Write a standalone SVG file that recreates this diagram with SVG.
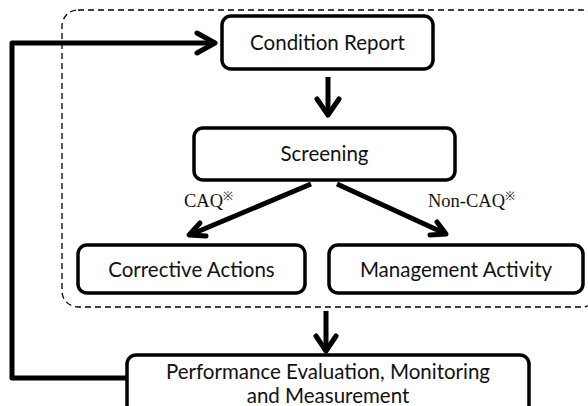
<svg xmlns="http://www.w3.org/2000/svg" width="588" height="406" viewBox="0 0 588 406">
<style>
.box{fill:#fff;stroke:#000;stroke-width:3.5}
.lbl{font-family:Lato,"Open Sans",sans-serif;font-size:20.5px;fill:#111;text-anchor:middle}
.ser{font-family:"Liberation Serif","DejaVu Serif",serif;font-size:18.5px;fill:#111}
.sup{font-size:12px}
.ln{fill:none;stroke:#000;stroke-width:5;stroke-linejoin:round;stroke-linecap:butt}
.hd{fill:none;stroke:#000;stroke-width:5;stroke-linejoin:round;stroke-linecap:round}
.dash{fill:none;stroke:#000;stroke-width:1.3;stroke-dasharray:6,4}
</style>
<rect width="588" height="406" fill="#fff"/>
<rect id="group-boundary" class="dash" x="62" y="10" width="536" height="297" rx="16"/>
<g id="condition-report"><rect class="box" x="222" y="16" width="211" height="53" rx="9"/><text class="lbl" x="327.5" y="50">Condition Report</text></g>
<g id="screening"><rect class="box" x="194" y="128" width="261" height="52" rx="9"/><text class="lbl" x="324.5" y="161">Screening</text></g>
<g id="corrective-actions"><rect class="box" x="78" y="245" width="227" height="48" rx="9"/><text class="lbl" x="191.5" y="277">Corrective Actions</text></g>
<g id="management-activity"><rect class="box" x="329" y="245" width="254" height="48" rx="9"/><text class="lbl" x="456" y="277">Management Activity</text></g>
<g id="performance"><rect class="box" x="127" y="355" width="402" height="60" rx="9"/><text class="lbl" x="328" y="379">Performance Evaluation, Monitoring</text><text class="lbl" x="328" y="403">and Measurement</text></g>
<g id="connectors">
<path class="ln" d="M328 77V115"/><path class="hd" d="M317 99L328 115L339 99"/>
<path class="ln" d="M311 184L192 234"/><path class="hd" d="M200 223L189 235L206 236"/>
<path class="ln" d="M337 184L444 233"/><path class="hd" d="M430 235L446 234L437 222"/>
<path class="ln" d="M326 311V350"/><path class="hd" d="M316 336L326 351L336 336"/>
<path class="ln" d="M127 378H12V43H214"/><path class="hd" d="M197 33L215 43L197 53"/>
<text class="ser" x="184" y="207">CAQ<tspan class="sup" dy="-7">※</tspan></text>
<text class="ser" x="428" y="207">Non-CAQ<tspan class="sup" dy="-7">※</tspan></text>
</g>
</svg>
